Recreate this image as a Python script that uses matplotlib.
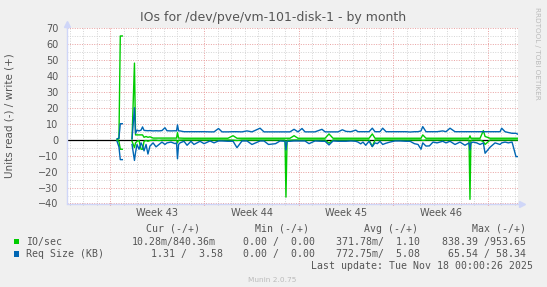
import numpy as np
import matplotlib
matplotlib.use('Agg')
import matplotlib.pyplot as plt
from matplotlib.patches import Rectangle

# canvas size in pixels
W, H = 547, 287

# time axis in days from the left edge of the graph
days = [3.71, 3.85, 3.95, 4.10, 4.15, 4.82, 5.00, 5.08, 5.19, 5.34,
        5.49, 5.60, 5.71, 5.86, 6.00, 6.15, 6.38, 6.60, 6.82, 7.04,
        7.26, 7.41, 7.71, 8.01, 8.12, 8.19, 8.27, 8.38, 8.67, 8.90,
        9.19, 9.41, 9.86, 10.16, 10.60, 10.90, 11.23, 11.49, 11.93, 12.31,
        12.60, 12.97, 13.34, 13.71, 14.31, 14.60, 14.94, 15.46, 15.79, 16.16,
        16.23, 16.31, 16.53, 16.83, 17.12, 17.42, 17.64, 17.94, 18.38, 18.90,
        19.13, 19.42, 19.72, 20.09, 20.41, 20.68, 21.05, 21.40, 21.57, 21.77,
        21.94, 22.14, 22.39, 22.63, 22.83, 23.00, 23.20, 23.40, 23.65, 23.94,
        24.31, 24.69, 25.13, 25.43, 25.75, 26.02, 26.24, 26.37, 26.61, 26.86,
        27.13, 27.43, 27.85, 28.09, 28.39, 28.76, 29.13, 29.50, 29.80, 29.87,
        29.94, 30.10, 30.37, 30.62, 30.86, 30.99, 31.36, 31.73, 32.10, 32.22,
        32.47, 32.71, 32.99, 33.28, 33.40]

nan = np.nan
# Req Size (KB), write (+) and read (-)
req_write = [0.5, 1, 10, 10, nan, 0.5, 20, 4, 6, 5.5,
             6, 8, 5.8, 5.7, 5.6, 5.7, 5.5, 5.6, 5.5, 5.7,
             7.5, 5.6, 5.5, 5.6, 5.5, 9.3, 5.5, 5.5, 5, 5,
             5, 5, 5, 5, 4.9, 4.9, 7, 4.9, 4.9, 5,
             5, 4.9, 5.5, 4.9, 7.2, 4.9, 4.9, 4.9, 4.9, 4.9,
             4.9, 4.9, 4.9, 6.5, 4.9, 7, 4.9, 4.9, 4.9, 6.5,
             4.9, 4.9, 4.9, 4.9, 6.2, 5.2, 5, 6, 5, 5,
             5, 5, 5, 7.2, 5, 5, 5, 7.2, 5, 5,
             5, 5, 5, 4.8, 5, 5, 5.5, 8.2, 5, 5,
             5, 5, 5.5, 5, 7.2, 5, 5, 5, 5, 5,
             5, 5, 5, 5, 5, 5, 5, 5, 5, 7.2,
             5, 4.5, 4, 4, 3.5]
req_read = [1, 4.5, 12.5, 12.5, nan, 3, 13, 8, 3, 6,
            2, 4, 7, 3, 9, 4, 2, 4.5, 3, 1.5,
            3, 2, 1.5, 2.5, 2, 12, 3, 2, 1, 3.5,
            1, 3, 1, 2.5, 0.8, 2, 0.8, 0.8, 1, 1,
            5, 0.8, 0.8, 3, 0.8, 0.8, 3, 2.5, 0.8, 1,
            6.4, 1, 1, 0.8, 0.8, 0.8, 0.8, 2.5, 0.8, 1,
            1, 3.3, 0.8, 1, 1, 1, 0.8, 1, 1.5, 2.6,
            1.5, 3.5, 1, 4.3, 2, 2.5, 1, 3, 2.2, 1.5,
            0.8, 0.8, 1, 1, 2.5, 3, 6, 2, 4, 3.9,
            1.5, 2, 1, 2, 1, 3, 1.5, 3.5, 2, 6.4,
            2, 1.5, 2, 3, 2, 8.5, 4.7, 2, 3, 2,
            1.5, 2, 1.5, 10.6, 10.6]
# IO/sec, write (+) and read (-)
io_write = [0.2, 0.5, 65, 65, nan, 0.5, 48, 3, 3, 3,
            3, 3, 1.5, 2, 1.5, 1.8, 1, 1, 1, 1,
            1, 1, 1, 1, 1, 4.5, 1, 1, 0.9, 0.9,
            0.9, 0.9, 0.9, 0.9, 0.9, 0.9, 0.9, 0.9, 0.9, 2.5,
            0.9, 0.9, 0.9, 0.9, 0.9, 0.9, 0.9, 0.9, 0.9, 0.9,
            0.9, 0.9, 0.9, 2.5, 0.9, 0.9, 0.9, 0.9, 0.9, 0.9,
            0.9, 3.6, 0.9, 0.9, 0.9, 0.9, 0.9, 0.9, 0.9, 0.9,
            0.9, 0.9, 0.9, 3.6, 0.9, 0.9, 0.9, 0.9, 0.9, 0.9,
            0.9, 0.9, 0.9, 0.9, 0.9, 0.9, 0.9, 3, 0.9, 0.9,
            0.9, 0.9, 0.9, 0.9, 0.9, 0.9, 0.9, 0.9, 0.9, 2.4,
            0.9, 0.9, 0.9, 0.9, 5.7, 2, 0.9, 0.9, 0.9, 0.9,
            0.9, 0.9, 0.9, 0.9, 0.9]
io_read = [0.5, 1, 6, 6, nan, 1, 5, 2, 1, 0.5,
           6, 6, 1, 0.5, 1, 0.5, 0.3, 0.3, 0.5, 0.3,
           0.3, 0.3, 0.3, 0.3, 0.3, 2, 0.3, 0.3, 0.2, 0.2,
           0.2, 0.2, 0.2, 0.2, 0.2, 0.2, 0.2, 0.2, 0.2, 0.3,
           0.5, 0.2, 0.2, 0.2, 0.2, 0.2, 0.2, 0.2, 0.2, 0.2,
           36, 0.3, 0.3, 0.2, 0.2, 0.2, 0.2, 0.2, 0.2, 0.2,
           0.2, 2.2, 0.2, 0.2, 0.2, 0.2, 0.2, 0.2, 0.2, 0.2,
           0.2, 0.2, 0.2, 4.3, 0.2, 0.2, 0.2, 0.2, 0.2, 0.2,
           0.2, 0.2, 0.2, 0.2, 0.2, 0.2, 0.2, 0.5, 0.2, 0.2,
           0.2, 0.2, 0.2, 0.2, 0.2, 0.2, 0.2, 0.2, 0.2, 37.4,
           0.3, 0.2, 0.2, 0.2, 1.2, 3, 0.2, 0.2, 0.2, 0.2,
           0.2, 0.2, 0.2, 0.2, 0.2]

week_labels = ['Week 43', 'Week 44', 'Week 45', 'Week 46']
week_starts = [3.19, 10.19, 17.19, 24.19, 31.19]

legend_header = ['Cur (-/+)', 'Min (-/+)', 'Avg (-/+)', 'Max (-/+)']
io_stats = ['10.28m/840.36m', '0.00 /  0.00', '371.78m/  1.10', '838.39 /953.65']
req_stats = ['1.31 /  3.58', '0.00 /  0.00', '772.75m/  5.08', '65.54 / 58.34']

green = '#00CC00'
blue = '#0066B3'
font_col = '#555555'
axis_col = '#CFD6F8'

fig = plt.figure(figsize=(W / 100, H / 100), dpi=100, facecolor='#F0F0F0')
# plot area: x 67..518 px, y 28..203.5 px
ax = fig.add_axes([67 / W, 1 - 203.5 / H, 451 / W, 175.5 / H], facecolor='white')

t = np.array(days)
ax.axhline(0, color='black', lw=0.9, zorder=2)
ax.plot(t, -np.array(io_read), color=green, lw=1.0, zorder=3)
ax.plot(t, np.array(io_write), color=green, lw=1.0, zorder=3)
ax.plot(t, -np.array(req_read), color=blue, lw=1.0, zorder=4)
ax.plot(t, np.array(req_write), color=blue, lw=1.0, zorder=4)

ax.set_xlim(0, 33.43)
ax.set_ylim(-40, 70)

# grid: red dotted major, grey dotted minor
ax.set_yticks(np.arange(-40, 71, 10))
ax.set_yticks(np.arange(-35, 70, 10), minor=True)
ax.set_xticks(week_starts)
ax.set_xticks(np.arange(0.19, 33.4, 1.0), minor=True)
ax.set_xticklabels([])
ax.grid(which='major', color='#E8A0A0', lw=0.7, linestyle=(0, (1, 1.5)), zorder=1)
ax.grid(which='minor', color='#D4D4D4', lw=0.7, linestyle=(0, (1, 1.5)), zorder=1)
ax.set_axisbelow(True)
ax.tick_params(axis='y', which='both', length=0, pad=6, labelsize=7, labelcolor=font_col)
ax.tick_params(axis='x', which='major', length=2, direction='inout', color='#E07070')
ax.tick_params(axis='x', which='minor', length=2, direction='inout', color='#C0C0C0')

for s in ['top', 'right']:
    ax.spines[s].set_visible(False)
for s in ['left', 'bottom']:
    ax.spines[s].set_color(axis_col)
    ax.spines[s].set_linewidth(1.0)
# axis arrows
ax.plot([0], [1.0 + 4 / 175.5], marker='^', ms=4, color=axis_col,
        transform=ax.transAxes, clip_on=False)
ax.plot([0, 0], [1.0, 1.0 + 4 / 175.5], color=axis_col, lw=1.0,
        transform=ax.transAxes, clip_on=False)
ax.plot([1.0 + 4 / 451], [0], marker='>', ms=4, color=axis_col,
        transform=ax.transAxes, clip_on=False)

# week labels centred in each week
for i, lab in enumerate(week_labels):
    mid = (week_starts[i] + week_starts[i + 1]) / 2
    ax.text(mid, -9.5 / 175.5, lab, transform=ax.get_xaxis_transform(),
            ha='center', va='center', fontsize=7, color=font_col)

def ftext(x, y, s, **kw):
    fig.text(x / W, 1 - y / H, s, **kw)

ftext(273, 18, 'IOs for /dev/pve/vm-101-disk-1 - by month', ha='center', va='center',
      fontsize=9, color=font_col)
ftext(10, 115.5, 'Units read (-) / write (+)', ha='center', va='center',
      rotation=90, fontsize=7.5, color=font_col)
ftext(537, 53.5, 'RRDTOOL / TOBI OETIKER', ha='center', va='center',
      rotation=-90, fontsize=5.2, color='#BBBBBB')

mono = dict(family='DejaVu Sans Mono', fontsize=7.1, color=font_col, va='center')
for x, s in zip([146.3, 255.4, 364, 472], legend_header):
    ftext(x, 228.6, s, **mono)
ftext(26.5, 241.5, 'IO/sec', **mono)
for x, s in zip([131.7, 242.9, 336.2, 441.8], io_stats):
    ftext(x, 241.5, s, **mono)
ftext(26.5, 254, 'Req Size (KB)', **mono)
for x, s in zip([151.2, 242.9, 336.2, 448], req_stats):
    ftext(x, 254, s, **mono)
ftext(311, 266, 'Last update: Tue Nov 18 00:00:26 2025', **mono)
ftext(272.6, 280, 'Munin 2.0.75', ha='center', va='center', fontsize=5.3, color='#BBBBBB')

for yc, col in [(241.5, green), (254, blue)]:
    fig.patches.append(Rectangle((14 / W, 1 - (yc + 2.7) / H), 5.3 / W, 5.3 / H,
                                 transform=fig.transFigure, facecolor=col,
                                 edgecolor='none'))

fig.savefig('out.png', dpi=100, facecolor=fig.get_facecolor())
